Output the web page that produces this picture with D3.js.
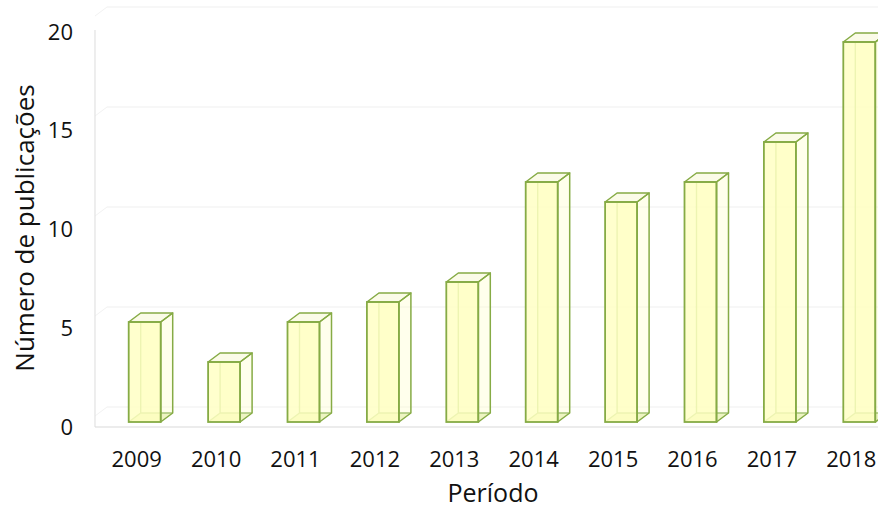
<!DOCTYPE html>
<html>
<head>
<meta charset="utf-8">
<script src="https://cdn.jsdelivr.net/npm/d3@7"></script>
<style>
  body { margin: 0; background: #fff; }
  text { font-family: "Open Sans", "Noto Sans", sans-serif; fill: #111; }
</style>
</head>
<body>
<div id="chart"></div>
<script>
const years = ['2009', '2010', '2011', '2012', '2013', '2014', '2015', '2016', '2017', '2018'];
const publications = [5, 3, 5, 6, 7, 12, 11, 12, 14, 19];
const yTicks = [0, 5, 10, 15, 20];

const width = 878;
const height = 509;
const dx = 12, dy = -9;          // depth offset of the 3d boxes
const barW = 32;

const svg = d3.select('#chart')
    .append('svg')
    .attr('width', width)
    .attr('height', height);

const x = d3.scaleBand()
    .domain(years)
    .range([94, 888]);

// bars are drawn on the front plane, gridlines on the back wall
const yFront = d3.scaleLinear().domain([0, 20]).range([422, 22]);
const yWall = d3.scaleLinear().domain([0, 20]).range([407, 7]);
const yLabel = d3.scaleLinear().domain([0, 20]).range([427, 32]);

// back wall gridlines
svg.append('g')
    .selectAll('line')
    .data(yTicks)
    .enter()
    .append('line')
    .attr('x1', 107)
    .attr('x2', width)
    .attr('y1', d => yWall(d))
    .attr('y2', d => yWall(d))
    .attr('stroke', '#f0f0f0')
    .attr('stroke-width', 1.2);

// side wall lines
svg.append('g')
    .selectAll('line')
    .data(yTicks)
    .enter()
    .append('line')
    .attr('x1', 95)
    .attr('x2', 107)
    .attr('y1', d => yWall(d) + 9)
    .attr('y2', d => yWall(d))
    .attr('stroke', '#f2f2f2')
    .attr('stroke-width', 1);

// axis lines
svg.append('line')
    .attr('x1', 95).attr('x2', 95)
    .attr('y1', 30).attr('y2', 427)
    .attr('stroke', '#e2e2e2').attr('stroke-width', 1.2);
svg.append('line')
    .attr('x1', 95).attr('x2', width)
    .attr('y1', 427).attr('y2', 427)
    .attr('stroke', '#d9d9d9').attr('stroke-width', 1.2);

// y tick labels
svg.append('g')
    .selectAll('text')
    .data(yTicks)
    .enter()
    .append('text')
    .attr('x', 73)
    .attr('y', d => yLabel(d))
    .attr('dy', '0.35em')
    .attr('text-anchor', 'end')
    .style('font-size', '22px')
    .text(d => d);

// x tick labels
svg.append('g')
    .selectAll('text')
    .data(years)
    .enter()
    .append('text')
    .attr('x', d => x(d) + x.bandwidth() / 2 + 3)
    .attr('y', 459)
    .attr('dy', '0.35em')
    .attr('text-anchor', 'middle')
    .style('font-size', '22px')
    .text(d => d);

const edge = '#86ab45';
const backEdge = '#a6c577';
const data = years.map((d, i) => ({ year: d, value: publications[i] }));

const bars = svg.append('g')
    .selectAll('g')
    .data(data)
    .enter()
    .append('g')
    .attr('class', 'bar');

bars.each(function(d) {
    const g = d3.select(this);
    const x0 = x(d.year) + x.bandwidth() / 2 - 5;
    const x1 = x0 + barW;
    const yb = yFront(0);
    const yt = yFront(d.value);
    const pts = a => a.map(p => p.join(',')).join(' ');

    // back face and floor
    g.append('polygon')
        .attr('points', pts([[x0 + dx, yt + dy], [x1 + dx, yt + dy], [x1 + dx, yb + dy], [x0 + dx, yb + dy]]))
        .attr('fill', '#ffffc8').attr('fill-opacity', 0.35);
    g.append('polygon')
        .attr('points', pts([[x0, yb], [x1, yb], [x1 + dx, yb + dy], [x0 + dx, yb + dy]]))
        .attr('fill', '#e6f0a8').attr('fill-opacity', 0.7);

    // hidden edges seen through the faces
    g.append('path')
        .attr('d', `M${x0 + dx},${yt + dy}V${yb + dy}H${x1 + dx}M${x0},${yb}L${x0 + dx},${yb + dy}`)
        .attr('fill', 'none').attr('stroke', backEdge).attr('stroke-width', 1.4);

    // front face
    g.append('rect')
        .attr('x', x0).attr('y', yt)
        .attr('width', barW).attr('height', yb - yt)
        .attr('fill', '#ffffc0').attr('fill-opacity', 0.8);

    // top and right side faces
    g.append('polygon')
        .attr('points', pts([[x0, yt], [x0 + dx, yt + dy], [x1 + dx, yt + dy], [x1, yt]]))
        .attr('fill', '#fbfbe8').attr('stroke', edge).attr('stroke-width', 1.5)
        .attr('stroke-linejoin', 'round');
    g.append('polygon')
        .attr('points', pts([[x1, yt], [x1 + dx, yt + dy], [x1 + dx, yb + dy], [x1, yb]]))
        .attr('fill', 'none').attr('stroke', edge).attr('stroke-width', 1.5)
        .attr('stroke-linejoin', 'round');

    g.append('rect')
        .attr('x', x0).attr('y', yt)
        .attr('width', barW).attr('height', yb - yt)
        .attr('fill', 'none').attr('stroke', edge).attr('stroke-width', 1.8);
});

// axis titles
svg.append('text')
    .attr('x', 493)
    .attr('y', 502)
    .attr('text-anchor', 'middle')
    .style('font-size', '25px')
    .text('Período');

svg.append('text')
    .attr('transform', 'rotate(-90)')
    .attr('x', -228)
    .attr('y', 34)
    .attr('text-anchor', 'middle')
    .style('font-size', '26px')
    .text('Número de publicações');
</script>
</body>
</html>
